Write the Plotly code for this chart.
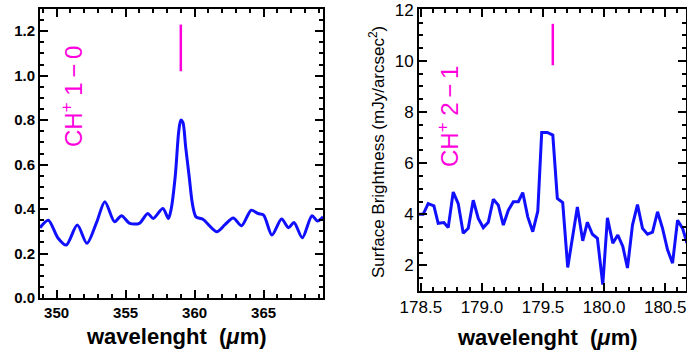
import plotly.graph_objects as go

# ---- Left panel: CH+ 1-0 ----
wl_left = [348.8, 349.4, 350.1, 350.7, 351.5, 352.2, 352.9, 353.5, 354.2, 354.7,
           355.3, 356.0, 356.6, 357.0, 357.7, 358.1, 358.3, 358.6, 358.85, 359.0,
           359.15, 359.35, 359.6, 359.85, 360.1, 360.6, 361.6, 362.2, 362.8, 363.4,
           364.1, 364.6, 365.0, 365.6, 366.3, 366.8, 367.2, 367.8, 368.5, 368.9, 369.3]
flux_left = [0.316, 0.35, 0.27, 0.238, 0.328, 0.246, 0.34, 0.433, 0.343, 0.37,
             0.336, 0.336, 0.38, 0.358, 0.403, 0.358, 0.40, 0.55, 0.75, 0.80,
             0.79, 0.68, 0.55, 0.42, 0.365, 0.354, 0.298, 0.33, 0.36, 0.325,
             0.395, 0.38, 0.373, 0.283, 0.355, 0.316, 0.34, 0.271, 0.37, 0.346, 0.365]
mark_left_x = [359.0, 359.0]
mark_left_y = [1.02, 1.23]
label_left = "CH<sup>+</sup>\u00a01\u2009\u2212\u20090"

# ---- Right panel: CH+ 2-1 ----
wl_right = [178.484, 178.519, 178.560, 178.607, 178.642, 178.689, 178.724, 178.765, 178.806, 178.847,
            178.888, 178.929, 178.970, 179.011, 179.052, 179.093, 179.134, 179.175, 179.216, 179.257,
            179.298, 179.334, 179.375, 179.416, 179.457, 179.489, 179.535, 179.580, 179.617, 179.661,
            179.702, 179.743, 179.781, 179.825, 179.863, 179.904, 179.945, 179.989, 180.027, 180.071,
            180.112, 180.153, 180.191, 180.232, 180.273, 180.314, 180.355, 180.396, 180.437, 180.478,
            180.519, 180.560, 180.601, 180.642, 180.678]
flux_right = [4.0, 4.0, 4.42, 4.33, 3.65, 3.68, 3.48, 4.87, 4.42, 3.26,
              3.45, 4.55, 3.84, 3.48, 3.69, 4.59, 4.36, 3.58, 4.16, 4.49,
              4.49, 4.85, 3.9, 3.32, 4.12, 7.2, 7.2, 7.1, 4.62, 4.46,
              1.92, 3.13, 4.29, 2.96, 3.69, 3.22, 3.06, 1.25, 3.86, 2.87,
              3.19, 2.74, 1.9, 3.58, 4.38, 3.45, 3.22, 3.3, 4.1, 3.45,
              2.61, 2.09, 3.77, 3.45, 2.87]
mark_right_x = [179.58, 179.58]
mark_right_y = [9.83, 11.45]
label_right = "CH<sup>+</sup>\u00a02\u2009\u2212\u20091"

x_title = "wavelenght\u00a0\u00a0(<i>\u03bc</i>m)"
y_title_right = "Surface\u00a0Brightness\u00a0(mJy/arcsec<sup>2</sup>)"

BLUE = "#1010ff"
MAG = "#ff00dd"
FONT = "Liberation Sans"

fig = go.Figure()
fig.add_trace(go.Scatter(x=wl_left, y=flux_left, mode="lines",
                         line=dict(color=BLUE, width=3, shape="spline", smoothing=0.8),
                         xaxis="x", yaxis="y", showlegend=False))
fig.add_trace(go.Scatter(x=mark_left_x, y=mark_left_y, mode="lines",
                         line=dict(color=MAG, width=2.5),
                         xaxis="x", yaxis="y", showlegend=False))
fig.add_trace(go.Scatter(x=wl_right, y=flux_right, mode="lines",
                         line=dict(color=BLUE, width=3),
                         xaxis="x2", yaxis="y2", showlegend=False))
fig.add_trace(go.Scatter(x=mark_right_x, y=mark_right_y, mode="lines",
                         line=dict(color=MAG, width=2.5),
                         xaxis="x2", yaxis="y2", showlegend=False))

W, H = 687, 350
tf_left = dict(family=FONT, size=15, color="black", weight="bold")
tf_right = dict(family=FONT, size=17, color="black")
common = dict(showline=True, linewidth=2, linecolor="black", mirror="allticks",
              ticks="inside", ticklen=8, tickwidth=1.5, tickcolor="black",
              showgrid=False, zeroline=False, automargin=False)
minor_style = dict(ticks="inside", ticklen=4, tickcolor="black", tickwidth=1.5)

fig.update_layout(
    width=W, height=H, margin=dict(l=0, r=0, t=0, b=0, autoexpand=False),
    plot_bgcolor="white", paper_bgcolor="white",
    xaxis=dict(domain=[40 / W, 323 / W], range=[348.8, 369.3], anchor="y",
               tick0=350, dtick=5, tickfont=tf_left,
               minor=dict(dtick=1, **minor_style), **common),
    yaxis=dict(domain=[1 - 298 / H, 1 - 9 / H], range=[0, 1.3], anchor="x",
               tick0=0, dtick=0.2, tickformat=".1f", tickfont=tf_left,
               minor=dict(dtick=0.05, **minor_style), **common),
    xaxis2=dict(domain=[419 / W, 686 / W], range=[178.485, 180.67], anchor="y2",
                tick0=178.5, dtick=0.5, tickformat=".1f", tickfont=tf_right,
                minor=dict(dtick=0.1, **minor_style), **common),
    yaxis2=dict(domain=[1 - 291 / H, 1 - 9 / H], range=[1, 12.03], anchor="x2",
                tickmode="array", tickvals=[2, 4, 6, 8, 10, 12], tickfont=tf_right,
                minor=dict(tickmode="linear", tick0=0, dtick=0.5, **minor_style), **common),
)

ann = [
    dict(text=label_left, x=72 / W, y=1 - 97 / H, textangle=-90,
         font=dict(family=FONT, size=24, color=MAG)),
    dict(text=label_right, x=448 / W, y=1 - 117 / H, textangle=-90,
         font=dict(family=FONT, size=24, color=MAG)),
    dict(text=x_title, x=176 / W, y=1 - 336 / H,
         font=dict(family=FONT, size=22, color="black", weight="bold")),
    dict(text=x_title, x=547 / W, y=1 - 337 / H,
         font=dict(family=FONT, size=22, color="black", weight="bold")),
    dict(text=y_title_right, x=377 / W, y=1 - 152 / H, textangle=-90,
         font=dict(family=FONT, size=17, color="black")),
]
for a in ann:
    fig.add_annotation(xref="paper", yref="paper", showarrow=False,
                       xanchor="center", yanchor="middle", **a)

fig.write_html("out.html")
